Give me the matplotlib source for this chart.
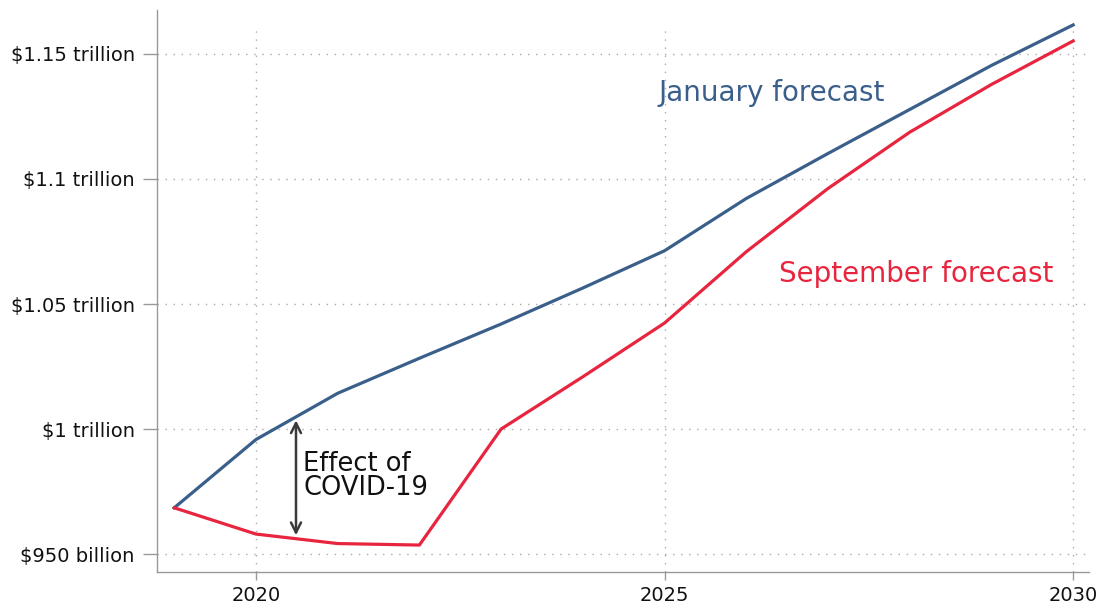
import matplotlib
matplotlib.use("Agg")
import matplotlib.pyplot as plt

years = [2019, 2020, 2021, 2022, 2023, 2024, 2025, 2026, 2027, 2028, 2029, 2030]
january = [968.5, 995.8, 1014.3, 1028.3, 1042.0, 1056.4, 1071.3, 1092.2, 1110.2, 1127.8, 1145.4, 1161.6]
september = [968.5, 958.0, 954.2, 953.6, 1000.0, 1020.9, 1042.4, 1070.9, 1096.2, 1118.7, 1137.8, 1155.2]
y_ticks = [950, 1000, 1050, 1100, 1150]
y_labels = ["$950 billion", "$1 trillion", "$1.05 trillion", "$1.1 trillion", "$1.15 trillion"]
x_ticks = [2020, 2025, 2030]

plt.rcParams['font.family'] = ['DejaVu Sans']
BLUE = "#3A5F8A"
RED = "#E8253F"
GRID = dict(color='#AAAAAA', linestyle=(0, (1, 4.8)), linewidth=1.0)

fig = plt.figure(figsize=(11.14, 6.06), dpi=100)
ax = fig.add_axes([0.141, 0.056, 0.837, 0.928])

ax.plot(years, january, color=BLUE, lw=2.3, solid_joinstyle='round', zorder=3)
ax.plot(years, september, color=RED, lw=2.3, solid_joinstyle='round', zorder=3)

ax.set_xlim(2018.79, 2030.2)
ax.set_ylim(942.8, 1167.7)
ax.set_yticks(y_ticks)
ax.set_yticklabels(y_labels)
ax.set_xticks(x_ticks)
ax.tick_params(axis='both', width=1, color='#999999', labelsize=14, labelcolor='#111111')
ax.tick_params(axis='y', length=10, pad=6)
ax.tick_params(axis='x', length=6, pad=4)
ax.grid(True, axis='y', **GRID)
for xv in x_ticks:
    ax.axvline(xv, ymin=0, ymax=0.968, zorder=0.5, **GRID)
for s in ['top', 'right']:
    ax.spines[s].set_visible(False)
for s in ['left', 'bottom']:
    ax.spines[s].set_color('#999999')
    ax.spines[s].set_linewidth(1)

ax.annotate('', xy=(2020.49, 1003.5), xytext=(2020.49, 957.5),
            arrowprops=dict(arrowstyle='<->', color='#3A3A3A', lw=1.8,
                            mutation_scale=18, shrinkA=0, shrinkB=0))
ax.text(2020.58, 983.1, "Effect of", fontsize=18.5, color='#111111', va='baseline', ha='left')
ax.text(2020.58, 973.7, "COVID-19", fontsize=18.5, color='#111111', va='baseline', ha='left')
ax.text(2024.93, 1131.0, "January forecast", fontsize=20, color=BLUE, ha='left', va='baseline')
ax.text(2026.40, 1058.7, "September forecast", fontsize=20, color=RED, ha='left', va='baseline')

fig.savefig("out.png", dpi=100)
